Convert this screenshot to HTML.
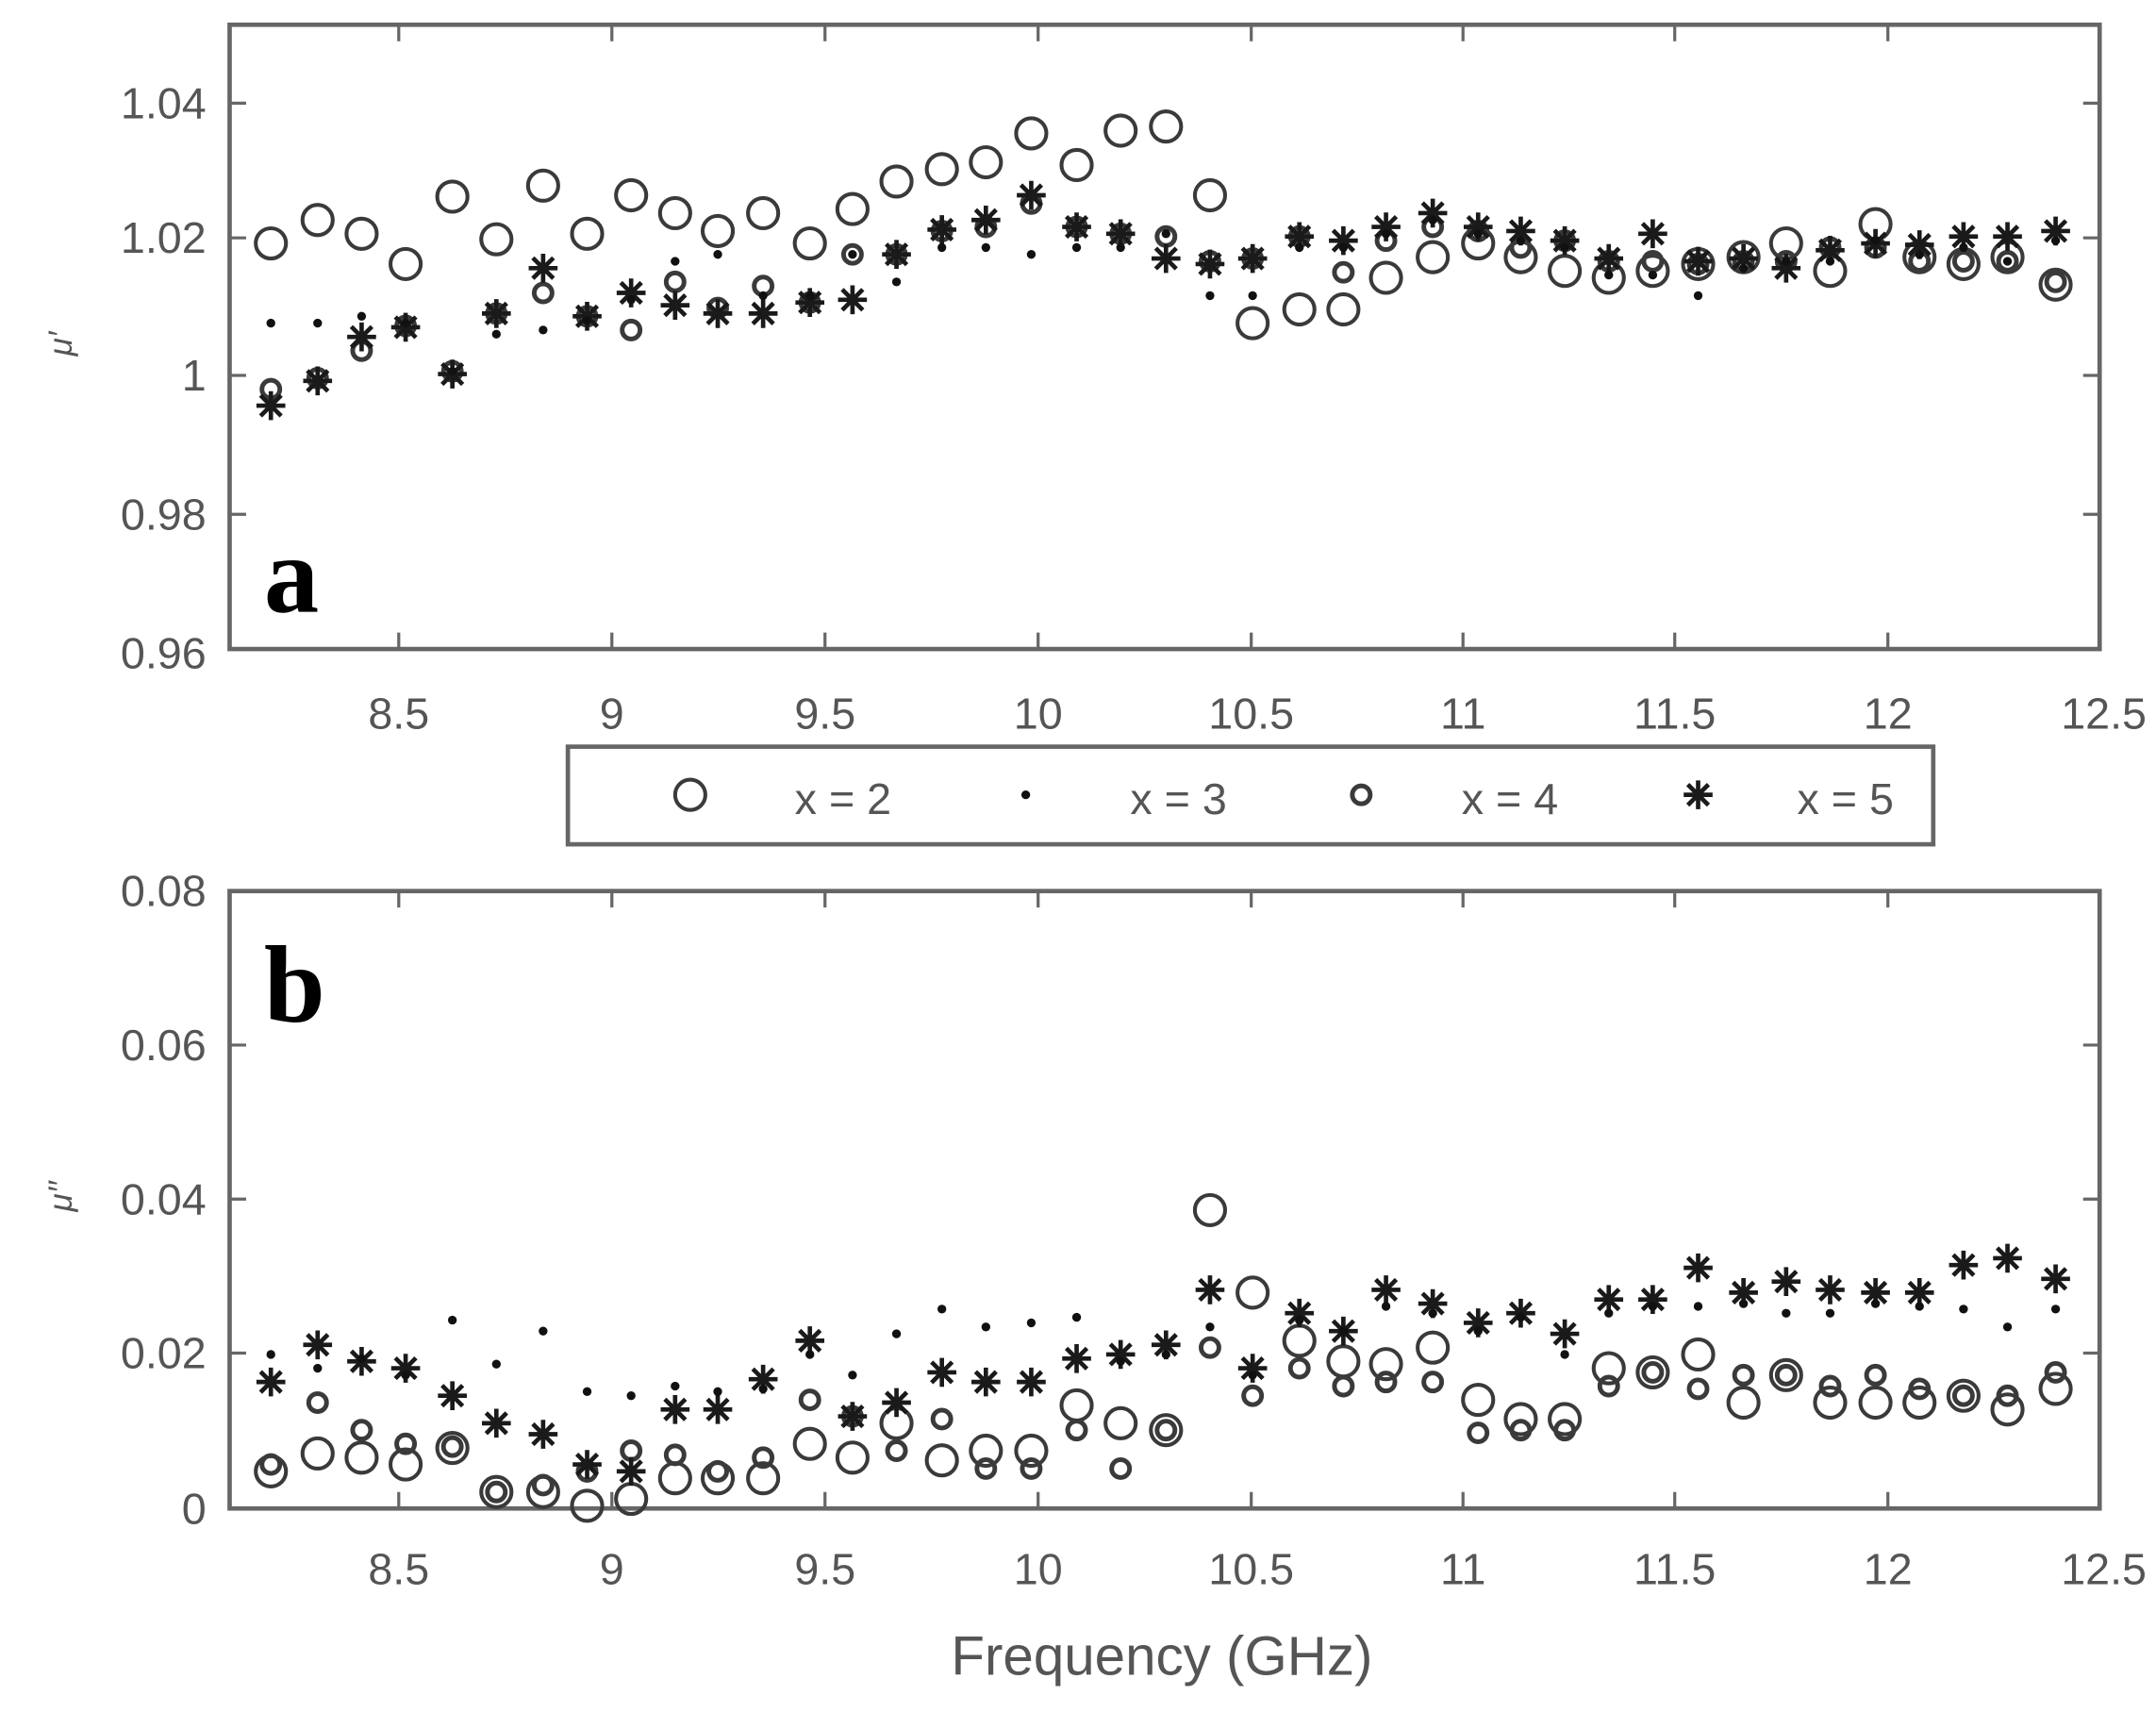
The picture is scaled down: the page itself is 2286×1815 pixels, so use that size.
<!DOCTYPE html>
<html><head><meta charset="utf-8"><style>
html,body{margin:0;padding:0;background:#fff;}
svg{display:block;}
text{font-family:"Liberation Sans",sans-serif;fill:#555;}
</style></head><body>
<svg id="s" width="2286" height="1815" viewBox="0 0 1568 1245" preserveAspectRatio="none" xmlns="http://www.w3.org/2000/svg">
<g id="ticks" stroke="#666" stroke-width="2.2" fill="none"></g>
<rect x="167" y="18" width="1360" height="454" fill="none" stroke="#666" stroke-width="3.2"/>
<rect x="167" y="648" width="1360" height="449" fill="none" stroke="#666" stroke-width="3.2"/>
<g font-size="32" text-anchor="end">
<text x="150" y="86">1.04</text><text x="150" y="184">1.02</text><text x="150" y="284">1</text><text x="150" y="385">0.98</text><text x="150" y="486">0.96</text>
<text x="150" y="659">0.08</text><text x="150" y="771">0.06</text><text x="150" y="883">0.04</text><text x="150" y="995">0.02</text><text x="150" y="1108">0</text>
</g>
<g font-size="32" text-anchor="middle">
<text x="290" y="530">8.5</text><text x="445" y="530">9</text><text x="600" y="530">9.5</text><text x="755" y="530">10</text><text x="910" y="530">10.5</text><text x="1064" y="530">11</text><text x="1218" y="530">11.5</text><text x="1373" y="530">12</text><text x="1530" y="530">12.5</text>
<text x="290" y="1152">8.5</text><text x="445" y="1152">9</text><text x="600" y="1152">9.5</text><text x="755" y="1152">10</text><text x="910" y="1152">10.5</text><text x="1064" y="1152">11</text><text x="1218" y="1152">11.5</text><text x="1373" y="1152">12</text><text x="1530" y="1152">12.5</text>
<text x="845" y="1218" font-size="40">Frequency (GHz)</text>
</g>
<text x="0" y="0" font-size="24" font-style="italic" transform="translate(52,250) rotate(-90)" text-anchor="middle">μ′</text>
<text x="0" y="0" font-size="24" font-style="italic" transform="translate(52,870) rotate(-90)" text-anchor="middle">μ′′</text>
<text x="192" y="445" style="fill:#000;font-family:'Liberation Serif',serif;font-weight:bold;font-size:80px">a</text>
<text x="192" y="743" style="fill:#000;font-family:'Liberation Serif',serif;font-weight:bold;font-size:80px">b</text>
<rect x="413" y="543" width="993" height="71" fill="#fff" stroke="#666" stroke-width="3.2"/>
<g font-size="32" text-anchor="start">
<text x="578" y="592">x = 2</text><text x="822" y="592">x = 3</text><text x="1063" y="592">x = 4</text><text x="1307" y="592">x = 5</text>
</g>
<g id="pts"></g>
</svg>
<script>
var X=[197,231,263,295,329,361,395,427,459,491,522,555,589,620,652,685,717,750,783,815,848,880,911,945,977,1008,1042,1075,1106,1138,1170,1202,1235,1268,1299,1331,1364,1396,1428,1460,1495];
var A2=[177,160,170,192,143,174,135,170,142,155,168,155,177,152,132,123,118,97,120,95,92,142,235,225,225,202,187,177,187,197,202,197,192,187,177,197,163,187,192,187,207];
var A3=[235,235,230,235,270,243,240,233,218,190,185,215,215,185,205,180,180,185,180,180,170,215,215,180,180,170,160,170,175,180,200,200,215,195,190,190,175,185,180,190,175];
var A4=[283,275,255,237,270,228,213,230,240,205,224,208,220,185,185,168,165,148,165,170,172,190,188,172,198,175,165,168,180,175,190,190,192,190,190,180,180,190,190,190,205];
var A5=[295,277,245,238,272,228,195,230,213,222,228,228,220,218,185,167,160,142,165,170,188,192,188,172,175,165,155,165,168,175,188,170,190,188,195,182,177,178,172,172,168];
var B2=[1070,1057,1060,1065,1053,1085,1085,1095,1090,1075,1075,1075,1050,1060,1035,1062,1055,1055,1022,1035,1040,880,940,975,990,992,980,1018,1032,1032,995,998,985,1020,1000,1020,1020,1020,1015,1025,1010];
var B3=[985,995,988,1000,960,992,968,1012,1015,1008,1012,1010,985,1000,970,952,965,962,958,990,985,965,1000,960,968,950,955,968,958,985,955,950,950,948,955,955,948,950,952,965,952];
var B4=[1065,1020,1040,1050,1052,1085,1080,1070,1055,1058,1070,1060,1018,1030,1055,1032,1068,1068,1040,1068,1040,980,1015,995,1008,1005,1005,1042,1040,1040,1008,998,1010,1000,1000,1008,1000,1010,1015,1015,998];
var B5=[1005,978,990,995,1015,1035,1043,1065,1070,1025,1025,1003,975,1030,1020,998,1005,1005,988,985,978,938,995,955,968,938,948,962,955,970,945,945,922,940,932,938,940,940,920,915,930];
var h='';
function circ(x,y,r,w){h+='<circle cx="'+x+'" cy="'+y+'" r="'+r+'" fill="none" stroke="#3a3a3a" stroke-width="'+w+'"/>';}
function dot(x,y){h+='<circle cx="'+x+'" cy="'+y+'" r="3.2" fill="#111"/>';}
function star(x,y){var r=10.5;h+='<path d="M'+x+' '+(y-r)+'V'+(y+r)+'M'+(x-r)+' '+y+'H'+(x+r)+'M'+(x-7.5)+' '+(y-7.5)+'L'+(x+7.5)+' '+(y+7.5)+'M'+(x-7.5)+' '+(y+7.5)+'L'+(x+7.5)+' '+(y-7.5)+'" stroke="#1a1a1a" stroke-width="3.2"/>';}
for(var i=0;i<X.length;i++){
circ(X[i],A2[i],11,2.8);circ(X[i],B2[i],11,2.8);
circ(X[i],A4[i],6.5,3.4);circ(X[i],B4[i],6.5,3.4);
star(X[i],A5[i]);star(X[i],B5[i]);
dot(X[i],A3[i]);dot(X[i],B3[i]);}
circ(502,578,11,2.8);dot(746,578);circ(990,578,6.5,3.4);star(1235,578);
document.getElementById('pts').innerHTML=h;
var t='';var xs=[290,445,600,755,910,1064,1218,1373];
xs.forEach(function(x){t+='<path d="M'+x+' 18v12M'+x+' 472v-12M'+x+' 648v12M'+x+' 1097v-12"/>';});
[75,173,273,374].forEach(function(y){t+='<path d="M167 '+y+'h12M1527 '+y+'h-12"/>';});
[760,872,984].forEach(function(y){t+='<path d="M167 '+y+'h12M1527 '+y+'h-12"/>';});
document.getElementById('ticks').innerHTML=t;
</script>
</body></html>
